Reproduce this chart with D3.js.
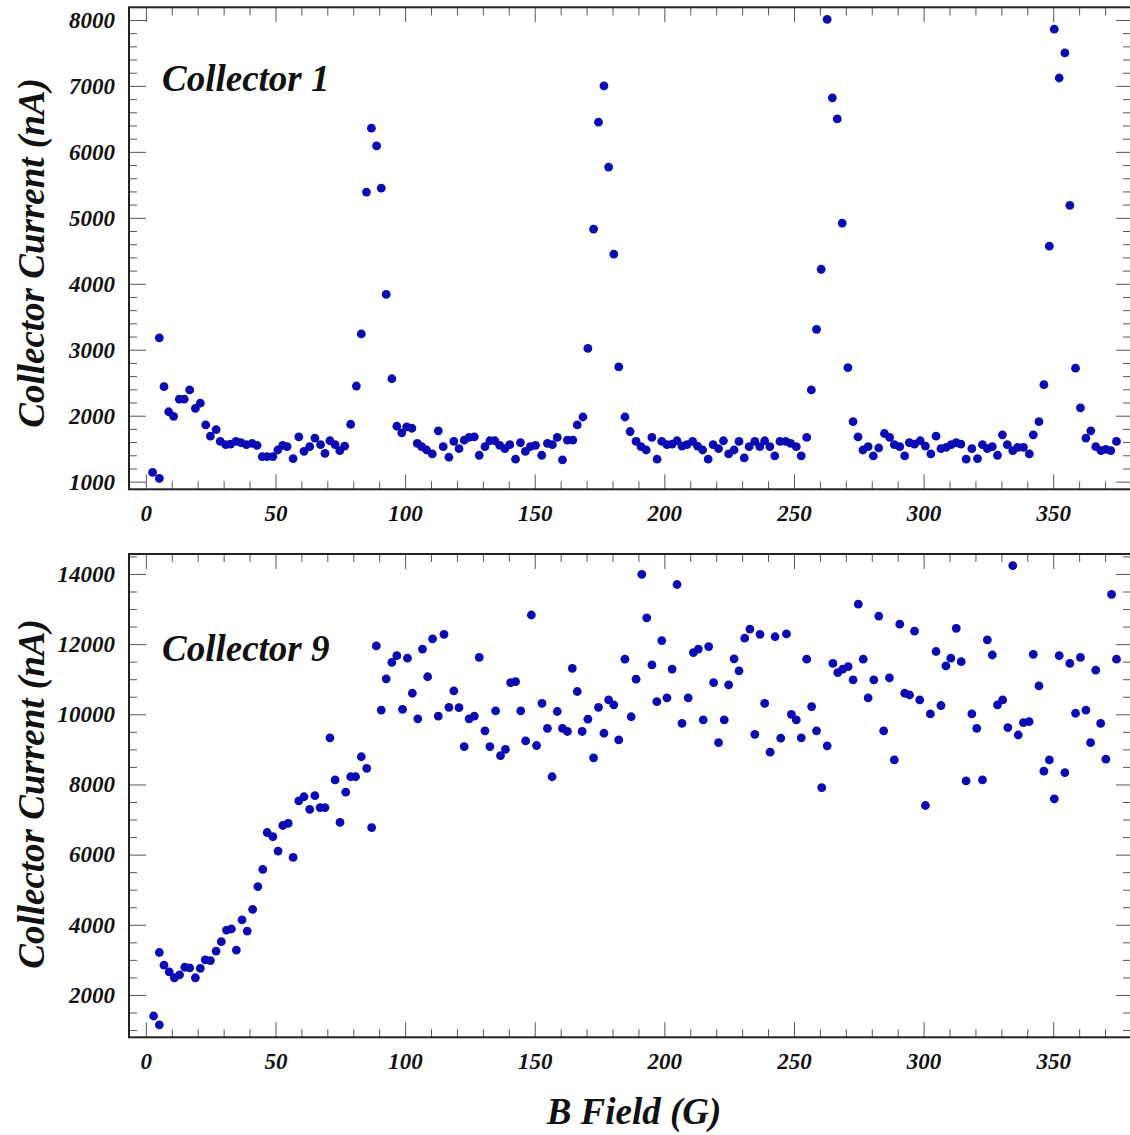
<!DOCTYPE html>
<html>
<head>
<meta charset="utf-8">
<script src="https://cdn.jsdelivr.net/npm/d3@7"></script>
<style>
  html, body { margin: 0; padding: 0; background: #fff; }
  svg { display: block; }
  text { font-family: "Liberation Serif", "Times New Roman", serif; font-style: italic; font-weight: bold; fill: #111; }
  .tick text { font-size: 23px; }
  .axis-title { font-size: 37px; }
  .panel-label { font-size: 37px; }
</style>
</head>
<body>
<div id="chart"></div>
<script>
// ── Data ───────────────────────────────────────────────────────────────────
const bField1 = [2.6,5.2,5.2,7.0,8.8,10.7,12.9,14.8,16.9,19.1,21.0,23.1,24.9,27.1,28.7,30.8,32.7,34.8,36.7,38.8,
  41.0,42.9,44.9,46.8,49.0,50.9,52.8,54.5,56.8,59.0,61.0,63.2,65.2,67.4,69.1,71.0,73.0,74.8,76.7,79.0,
  81.2,83.1,85.1,87.0,89.0,90.8,92.7,94.9,96.8,98.7,100.6,102.6,104.7,106.4,108.3,110.5,112.8,114.7,116.9,118.8,
  120.8,122.8,124.7,126.7,128.6,130.8,132.7,134.6,136.5,138.5,140.4,142.6,144.5,146.4,148.3,150.3,152.7,154.9,156.8,158.7,
  160.7,162.6,164.7,166.4,168.6,170.5,172.7,174.6,176.7,178.5,180.5,182.4,184.8,186.8,189.1,191.0,193.0,195.2,197.2,199.0,
  201.0,203.0,204.9,206.8,208.7,210.9,212.8,214.8,216.9,218.8,220.9,222.8,224.8,226.9,228.8,230.8,232.7,234.9,236.8,238.7,
  240.7,242.6,244.6,246.8,248.7,250.9,252.8,254.9,256.7,258.7,260.5,262.8,264.8,266.7,268.6,270.8,272.8,274.7,276.6,278.6,
  280.6,282.7,284.9,286.9,288.7,290.8,292.7,294.5,296.5,298.7,300.7,302.8,304.8,306.7,308.7,310.7,312.6,314.4,316.4,318.6,
  320.8,322.7,324.6,326.5,328.5,330.4,332.3,334.4,336.3,338.5,340.8,342.3,344.5,346.4,348.5,350.4,352.3,354.5,356.4,358.6,
  360.5,362.6,364.5,366.4,368.4,370.3,372.2,374.4];
const current1 = [1140,1050,3180,2440,2060,1990,2250,2250,2390,2110,2190,1860,1690,1790,1610,1560,1570,1610,1590,1560,
  1580,1550,1380,1380,1380,1480,1550,1530,1350,1680,1460,1530,1660,1560,1430,1620,1560,1470,1540,1870,
  2450,3240,5390,6360,6090,5450,3840,2560,1840,1740,1830,1810,1580,1530,1480,1420,1770,1530,1370,1610,
  1500,1630,1670,1680,1400,1530,1620,1620,1550,1500,1560,1340,1590,1460,1530,1550,1400,1580,1560,1670,
  1330,1630,1630,1860,1980,3020,4830,6450,7000,5770,4450,2740,1980,1760,1610,1530,1480,1670,1340,1610,
  1560,1570,1620,1540,1560,1610,1540,1480,1340,1560,1500,1620,1420,1480,1610,1360,1530,1610,1530,1620,
  1530,1390,1610,1610,1580,1530,1390,1670,2390,3310,4220,8010,6820,6500,4920,2730,1910,1680,1480,1530,
  1390,1510,1730,1670,1560,1530,1390,1590,1570,1620,1540,1420,1690,1500,1520,1560,1590,1570,1340,1500,
  1350,1560,1500,1530,1400,1710,1560,1470,1520,1520,1420,1710,1910,2470,4570,7860,7120,7500,5190,2720,
  2120,1660,1770,1530,1470,1490,1470,1610];

const bField9 = [3.0,5.2,5.2,7.0,9.0,11.0,13.0,15.0,16.9,19.1,21.0,22.9,24.9,27.1,29.1,31.1,33.0,34.9,37.1,39.1,
  41.2,43.2,45.1,46.8,49.0,51.0,52.8,54.9,56.8,59.0,61.0,63.2,65.2,67.2,69.1,71.0,73.0,74.9,77.1,79.0,
  80.9,83.1,85.2,87.1,88.9,90.8,92.7,94.9,96.8,99.0,100.9,102.8,104.9,106.7,108.7,110.6,112.8,115.0,116.9,118.8,
  120.8,122.8,124.7,126.7,128.6,130.8,132.7,134.9,136.8,138.7,140.7,142.6,144.6,146.5,148.7,150.7,152.8,154.9,156.7,158.7,
  160.7,162.6,164.5,166.4,168.3,170.5,172.7,174.6,176.7,178.5,180.5,182.4,184.8,187.2,189.1,191.3,193.2,195.2,197.1,199.0,
  201.0,203.0,204.9,206.8,209.2,211.2,213.1,215.0,217.1,219.0,220.9,223.1,224.8,226.9,228.8,231.0,233.0,234.9,236.9,238.7,
  240.8,242.7,244.9,247.1,249.0,250.9,252.8,254.9,256.8,258.7,260.7,262.8,265.0,266.9,268.8,270.9,272.8,274.8,276.7,278.6,
  280.8,282.7,284.6,286.8,288.7,290.8,292.7,294.6,296.5,298.5,300.7,302.6,304.8,306.7,308.6,310.5,312.6,314.5,316.4,318.6,
  320.5,322.7,324.6,326.5,328.5,330.5,332.5,334.4,336.5,338.5,340.7,342.3,344.5,346.4,348.5,350.4,352.3,354.5,356.4,358.6,
  360.5,362.6,364.4,366.4,368.3,370.3,372.5,374.4];
const current9 = [1400,1150,3210,2850,2660,2490,2570,2790,2770,2490,2760,3000,2980,3250,3520,3850,3880,3280,4140,3820,
  4440,5090,5580,6630,6510,6100,6830,6890,5920,7530,7650,7290,7680,7340,7340,9330,8130,6920,7780,8220,
  8220,8790,8460,6770,11950,10120,11010,11480,11670,10140,11600,10600,9870,11860,11070,12150,9950,12280,10200,10670,
  10190,9080,9870,9950,11620,9530,9080,10100,8820,9000,10900,10930,10100,9240,12830,9110,10310,9600,8220,10080,
  9600,9510,11310,10650,9510,9860,8760,10200,9460,10410,10270,9270,11570,9930,11000,13990,12750,11410,10360,12100,
  10470,11290,13700,9740,10470,11760,11860,9840,11930,10900,9190,9840,10840,11580,11240,12170,12430,9430,12280,10310,
  8920,12210,9320,12290,10000,9840,9330,11570,10220,9530,7910,9100,11450,11190,11290,11360,10980,13140,11570,10470,
  10980,12800,9530,11040,8700,12570,10600,10550,12370,10410,7400,10010,11790,10250,11380,11600,12450,11500,8100,10010,
  9600,8130,12120,11690,10270,10410,9620,14240,9410,9760,9790,11710,10810,8380,8700,7590,11670,8340,11450,10030,
  11620,10120,9190,11260,9740,8720,13420,11570];

const xMajor = [0, 50, 100, 150, 200, 250, 300, 350];
const xMinor = d3.range(0, 380, 10);
const yMajor1 = [1000, 2000, 3000, 4000, 5000, 6000, 7000, 8000];
const yMinor1 = d3.range(1000, 8001, 200);
const yMajor9 = [2000, 4000, 6000, 8000, 10000, 12000, 14000];
const yMinor9 = d3.range(1000, 14501, 500);

// ── Layout ─────────────────────────────────────────────────────────────────
const W = 1130, H = 1135;
const LEFT = 129, RIGHT = 1131;
const DOT = "#0b0bb4";

const svg = d3.select("#chart").append("svg").attr("width", W).attr("height", H);

const x = d3.scaleLinear().domain([-6.5, 380]).range([LEFT, RIGHT]);

// ── Panels ─────────────────────────────────────────────────────────────────
function drawPanel(opts) {
  const { top, bottom, y, major, minor, bf, cur, label, labelY, titleY } = opts;
  const g = svg.append("g");

  // inward ticks on all four sides; labels only on bottom/left majors
  const yMinorOnly = minor.filter(v => !major.includes(v));
  const xMinorOnly = xMinor.filter(v => !xMajor.includes(v));

  const ax = (axis, tr) => g.append("g").attr("transform", tr).call(axis)
    .call(s => s.select(".domain").remove())
    .call(s => s.selectAll(".tick line").attr("stroke", "#555"));

  ax(d3.axisBottom(x).tickValues(xMajor).tickSize(-15).tickPadding(15).tickFormat(d3.format("d")), `translate(0,${bottom})`);
  ax(d3.axisBottom(x).tickValues(xMinorOnly).tickSize(-8).tickFormat(""), `translate(0,${bottom})`);
  ax(d3.axisTop(x).tickValues(xMajor).tickSize(-15).tickFormat(""), `translate(0,${top})`);
  ax(d3.axisTop(x).tickValues(xMinorOnly).tickSize(-8).tickFormat(""), `translate(0,${top})`);

  ax(d3.axisLeft(y).tickValues(major).tickSize(-17).tickPadding(14).tickFormat(d3.format("d")), `translate(${LEFT},0)`);
  ax(d3.axisLeft(y).tickValues(yMinorOnly).tickSize(-8).tickFormat(""), `translate(${LEFT},0)`);
  ax(d3.axisRight(y).tickValues(major).tickSize(-15).tickFormat(""), `translate(${RIGHT},0)`);
  ax(d3.axisRight(y).tickValues(yMinorOnly).tickSize(-8).tickFormat(""), `translate(${RIGHT},0)`);

  g.selectAll(".tick text").attr("fill", "#111");

  // frame
  g.append("rect")
    .attr("x", LEFT).attr("y", top)
    .attr("width", RIGHT - LEFT).attr("height", bottom - top)
    .attr("fill", "none").attr("stroke", "#222").attr("stroke-width", 2);

  // points
  g.append("g").selectAll("circle")
    .data(bf.map((b, i) => [b, cur[i]]))
    .enter()
    .append("circle")
    .attr("cx", d => x(d[0]))
    .attr("cy", d => y(d[1]))
    .attr("r", 4.4)
    .attr("fill", DOT);

  // labels
  g.append("text").attr("class", "panel-label")
    .attr("x", 162).attr("y", labelY).text(label);

  g.append("text").attr("class", "axis-title")
    .attr("transform", `translate(44,${titleY}) rotate(-90)`)
    .attr("text-anchor", "middle")
    .text("Collector Current (nA)");
}

drawPanel({
  top: 7.3, bottom: 489.3,
  y: d3.scaleLinear().domain([884, 8192]).range([489.3, 7.3]),
  major: yMajor1, minor: yMinor1,
  bf: bField1, cur: current1,
  label: "Collector 1", labelY: 91, titleY: 253
});

drawPanel({
  top: 554, bottom: 1037.3,
  y: d3.scaleLinear().domain([793, 14569]).range([1037.3, 554]),
  major: yMajor9, minor: yMinor9,
  bf: bField9, cur: current9,
  label: "Collector 9", labelY: 661, titleY: 794
});

// ── X title ────────────────────────────────────────────────────────────────
svg.append("text").attr("class", "axis-title")
  .attr("x", 634).attr("y", 1124)
  .attr("text-anchor", "middle")
  .text("B Field (G)");
</script>
</body>
</html>
